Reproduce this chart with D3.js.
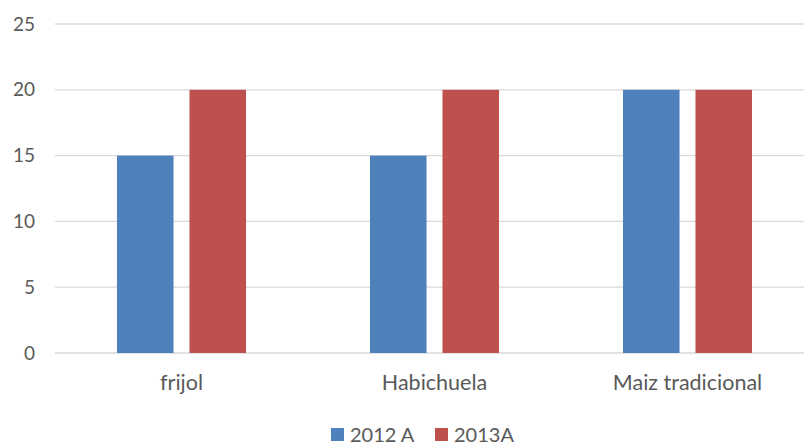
<!DOCTYPE html>
<html>
<head>
<meta charset="utf-8">
<script src="https://cdn.jsdelivr.net/npm/d3@7/dist/d3.min.js"></script>
<style>
  html, body { margin: 0; padding: 0; background: #fff; }
  svg { display: block; }
  text { font-family: Lato, "Open Sans", sans-serif; fill: #595959; }
</style>
</head>
<body>
<svg id="chart" width="804" height="445"></svg>
<script>
// Chart data
const categories = ["frijol", "Habichuela", "Maiz tradicional"];
const seriesNames = ["2012 A", "2013A"];
const values2012 = [15, 15, 20];
const values2013 = [20, 20, 20];
const yTicks = [0, 5, 10, 15, 20, 25];
const colors = ["#4F81BD", "#C0504D"];

const seriesValues = [values2012, values2013];
const rows = categories.map((c, i) => ({
  category: c,
  values: seriesNames.map((s, j) => ({ series: s, value: seriesValues[j][i], idx: j }))
}));

const svg = d3.select("#chart");
const plotLeft = 55, plotRight = 814, plotTop = 24, plotBottom = 353;

const x0 = d3.scaleBand().domain(categories).range([plotLeft, plotRight]).paddingInner(0.49).paddingOuter(0.245);
const x1 = d3.scaleBand().domain(seriesNames).range([0, x0.bandwidth()]).paddingInner(0.22).paddingOuter(0);
const y = d3.scaleLinear().domain([0, 25]).range([plotBottom, plotTop]);

// Gridlines
svg.append("g")
  .selectAll("line")
  .data(yTicks)
  .join("line")
  .attr("x1", plotLeft).attr("x2", plotRight)
  .attr("y1", d => y(d)).attr("y2", d => y(d))
  .attr("stroke", "#d9d9d9").attr("stroke-width", 1.3);

// Y axis labels
const yAxis = d3.axisLeft(y).tickValues(yTicks).tickSize(0).tickPadding(0);
const yg = svg.append("g").attr("transform", `translate(35,0)`).call(yAxis);
yg.select(".domain").remove();
yg.selectAll("text").attr("font-size", 19).attr("fill", "#595959")
  .style("font-family", "Lato, 'Open Sans', sans-serif");

// Bars
svg.append("g")
  .selectAll("g")
  .data(rows)
  .join("g")
  .attr("transform", d => `translate(${x0(d.category)},0)`)
  .selectAll("rect")
  .data(d => d.values)
  .join("rect")
  .attr("x", d => x1(d.series))
  .attr("width", x1.bandwidth())
  .attr("y", d => y(d.value))
  .attr("height", d => y(0) - y(d.value))
  .attr("fill", d => colors[d.idx]);

// Category axis labels
const xAxis = d3.axisBottom(x0).tickSize(0).tickPadding(0);
const xg = svg.append("g").attr("transform", `translate(0,${plotBottom})`).call(xAxis);
xg.select(".domain").remove();
xg.selectAll("text").attr("font-size", 21.5).attr("fill", "#595959")
  .attr("dy", null).attr("y", 37)
  .style("font-family", "Lato, 'Open Sans', sans-serif");

// Legend
const legendItems = [
  { name: seriesNames[0], color: colors[0], x: 331 },
  { name: seriesNames[1], color: colors[1], x: 435 }
];
const lg = svg.append("g");
legendItems.forEach(it => {
  lg.append("rect").attr("x", it.x).attr("y", 428).attr("width", 13).attr("height", 13).attr("fill", it.color);
  lg.append("text").attr("x", it.x + 19).attr("y", 442).attr("font-size", 20).text(it.name);
});
</script>
</body>
</html>
